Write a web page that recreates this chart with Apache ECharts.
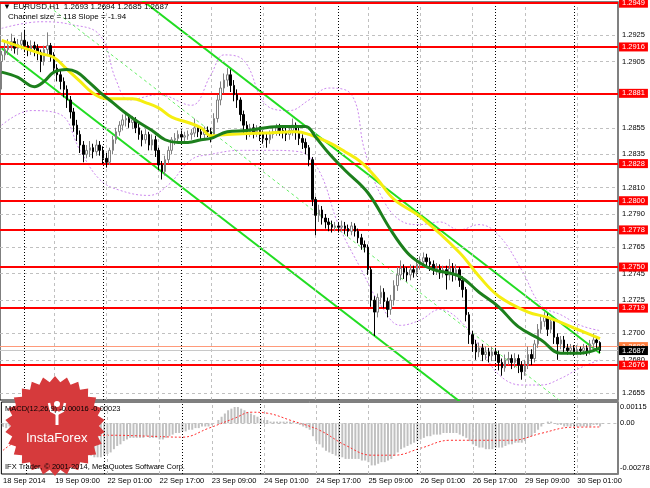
<!DOCTYPE html>
<html><head><meta charset="utf-8">
<script src="https://cdn.jsdelivr.net/npm/echarts@6/dist/echarts.min.js"></script>
<style>html,body{margin:0;padding:0;background:#fff}#c{width:650px;height:488px}</style>
</head><body><div id="c"></div>
<script>
// ---------- DATA ----------
// candles: [open, close, low, high], hourly bars from 18 Sep 2014 17:00
const candles = [
[1.2905,1.2910,1.2884,1.2913],[1.2910,1.2914,1.2906,1.2920],[1.2914,1.2917,1.2910,1.2922],[1.2917,1.2920,1.2913,1.2926],
[1.2920,1.2915,1.2911,1.2923],[1.2915,1.2918,1.2910,1.2922],[1.2918,1.2921,1.2914,1.2927],[1.2921,1.2917,1.2912,1.2929],
[1.2917,1.2914,1.2909,1.2920],[1.2914,1.2917,1.2910,1.2921],[1.2917,1.2915,1.2909,1.2920],[1.2915,1.2912,1.2906,1.2918],
[1.2912,1.2905,1.2897,1.2914],[1.2905,1.2914,1.2902,1.2917],[1.2914,1.2917,1.2910,1.2927],[1.2917,1.2910,1.2905,1.2919],
[1.2910,1.2900,1.2896,1.2912],[1.2900,1.2895,1.2890,1.2903],[1.2895,1.2890,1.2884,1.2898],[1.2890,1.2884,1.2878,1.2893],
[1.2884,1.2876,1.2870,1.2887],[1.2876,1.2867,1.2862,1.2879],[1.2867,1.2857,1.2852,1.2870],[1.2857,1.2850,1.2845,1.2861],
[1.2850,1.2842,1.2836,1.2853],[1.2842,1.2835,1.2829,1.2845],[1.2835,1.2838,1.2832,1.2842],[1.2838,1.2840,1.2833,1.2845],
[1.2840,1.2837,1.2832,1.2843],[1.2837,1.2842,1.2834,1.2846],[1.2842,1.2838,1.2834,1.2845],[1.2838,1.2832,1.2828,1.2841],
[1.2832,1.2829,1.2825,1.2836],[1.2829,1.2838,1.2827,1.2840],[1.2838,1.2846,1.2835,1.2849],[1.2846,1.2852,1.2843,1.2855],
[1.2852,1.2857,1.2849,1.2860],[1.2857,1.2861,1.2853,1.2865],[1.2861,1.2862,1.2856,1.2867],[1.2862,1.2859,1.2855,1.2865],
[1.2859,1.2861,1.2854,1.2864],[1.2861,1.2855,1.2851,1.2863],[1.2855,1.2850,1.2846,1.2858],[1.2850,1.2846,1.2841,1.2853],
[1.2846,1.2850,1.2843,1.2854],[1.2850,1.2842,1.2838,1.2852],[1.2842,1.2846,1.2838,1.2850],[1.2846,1.2838,1.2833,1.2849],
[1.2838,1.2827,1.2823,1.2840],[1.2827,1.2822,1.2816,1.2830],[1.2822,1.2831,1.2819,1.2834],[1.2831,1.2838,1.2828,1.2841],
[1.2838,1.2846,1.2835,1.2848],[1.2846,1.2847,1.2842,1.2851],[1.2847,1.2850,1.2844,1.2853],[1.2850,1.2848,1.2845,1.2853],
[1.2848,1.2849,1.2845,1.2852],[1.2849,1.2850,1.2846,1.2853],[1.2850,1.2851,1.2846,1.2854],[1.2851,1.2855,1.2848,1.2862],
[1.2855,1.2852,1.2848,1.2857],[1.2852,1.2850,1.2846,1.2855],[1.2850,1.2853,1.2847,1.2856],[1.2853,1.2852,1.2848,1.2856],
[1.2852,1.2850,1.2844,1.2855],[1.2850,1.2862,1.2847,1.2866],[1.2862,1.2876,1.2859,1.2880],[1.2876,1.2885,1.2872,1.2890],
[1.2885,1.2891,1.2881,1.2896],[1.2891,1.2895,1.2886,1.2900],[1.2895,1.2887,1.2882,1.2899],[1.2887,1.2880,1.2875,1.2891],
[1.2880,1.2876,1.2870,1.2884],[1.2876,1.2865,1.2860,1.2878],[1.2865,1.2857,1.2850,1.2868],[1.2857,1.2852,1.2846,1.2860],
[1.2852,1.2855,1.2848,1.2858],[1.2855,1.2852,1.2847,1.2858],[1.2852,1.2853,1.2848,1.2857],[1.2853,1.2850,1.2845,1.2856],
[1.2850,1.2847,1.2843,1.2853],[1.2847,1.2846,1.2840,1.2851],[1.2846,1.2850,1.2843,1.2853],[1.2850,1.2852,1.2847,1.2855],
[1.2852,1.2855,1.2849,1.2858],[1.2855,1.2853,1.2849,1.2858],[1.2853,1.2852,1.2847,1.2857],[1.2852,1.2850,1.2845,1.2855],
[1.2850,1.2853,1.2846,1.2857],[1.2853,1.2857,1.2849,1.2862],[1.2857,1.2852,1.2846,1.2859],[1.2852,1.2847,1.2842,1.2855],
[1.2847,1.2844,1.2839,1.2850],[1.2844,1.2840,1.2835,1.2847],[1.2840,1.2831,1.2826,1.2842],[1.2831,1.2801,1.2796,1.2833],
[1.2801,1.2789,1.2774,1.2803],[1.2789,1.2793,1.2784,1.2797],[1.2793,1.2787,1.2782,1.2796],[1.2787,1.2784,1.2779,1.2790],
[1.2784,1.2782,1.2777,1.2787],[1.2782,1.2780,1.2776,1.2785],[1.2780,1.2781,1.2777,1.2784],[1.2781,1.2780,1.2776,1.2784],
[1.2780,1.2781,1.2777,1.2785],[1.2781,1.2779,1.2775,1.2784],[1.2779,1.2777,1.2773,1.2782],[1.2777,1.2781,1.2774,1.2784],
[1.2781,1.2777,1.2773,1.2783],[1.2777,1.2772,1.2768,1.2779],[1.2772,1.2767,1.2763,1.2775],[1.2767,1.2765,1.2761,1.2770],
[1.2765,1.2748,1.2744,1.2767],[1.2748,1.2725,1.2720,1.2750],[1.2725,1.2716,1.2698,1.2728],[1.2716,1.2727,1.2712,1.2730],
[1.2727,1.2731,1.2722,1.2736],[1.2731,1.2724,1.2719,1.2734],[1.2724,1.2718,1.2712,1.2727],[1.2718,1.2725,1.2714,1.2729],
[1.2725,1.2736,1.2721,1.2740],[1.2736,1.2744,1.2732,1.2750],[1.2744,1.2749,1.2740,1.2755],[1.2749,1.2746,1.2741,1.2752],
[1.2746,1.2744,1.2739,1.2750],[1.2744,1.2748,1.2740,1.2752],[1.2748,1.2746,1.2742,1.2751],[1.2746,1.2752,1.2743,1.2756],
[1.2752,1.2754,1.2748,1.2758],[1.2754,1.2757,1.2750,1.2761],[1.2757,1.2754,1.2750,1.2760],[1.2754,1.2752,1.2747,1.2757],
[1.2752,1.2748,1.2744,1.2755],[1.2748,1.2749,1.2744,1.2753],[1.2749,1.2746,1.2741,1.2752],[1.2746,1.2748,1.2742,1.2751],
[1.2748,1.2744,1.2733,1.2751],[1.2744,1.2749,1.2740,1.2756],[1.2749,1.2744,1.2739,1.2753],[1.2744,1.2748,1.2740,1.2752],
[1.2748,1.2740,1.2735,1.2750],[1.2740,1.2733,1.2727,1.2743],[1.2733,1.2714,1.2709,1.2735],[1.2714,1.2699,1.2692,1.2716],
[1.2699,1.2692,1.2686,1.2702],[1.2692,1.2686,1.2680,1.2695],[1.2686,1.2689,1.2682,1.2693],[1.2689,1.2684,1.2679,1.2692],
[1.2684,1.2686,1.2680,1.2690],[1.2686,1.2683,1.2678,1.2689],[1.2683,1.2686,1.2679,1.2690],[1.2686,1.2684,1.2679,1.2689],
[1.2684,1.2678,1.2672,1.2687],[1.2678,1.2674,1.2668,1.2681],[1.2674,1.2680,1.2671,1.2684],[1.2680,1.2681,1.2676,1.2686],
[1.2681,1.2678,1.2673,1.2684],[1.2678,1.2681,1.2674,1.2685],[1.2681,1.2676,1.2670,1.2684],[1.2676,1.2671,1.2665,1.2679],
[1.2671,1.2676,1.2668,1.2680],[1.2676,1.2684,1.2673,1.2690],[1.2684,1.2681,1.2676,1.2688],[1.2681,1.2692,1.2678,1.2695],
[1.2692,1.2703,1.2689,1.2707],[1.2703,1.2709,1.2700,1.2713],[1.2709,1.2712,1.2705,1.2716],[1.2712,1.2703,1.2698,1.2715],
[1.2703,1.2709,1.2700,1.2712],[1.2709,1.2697,1.2692,1.2711],[1.2697,1.2692,1.2680,1.2700],[1.2692,1.2695,1.2688,1.2698],
[1.2695,1.2689,1.2685,1.2698],[1.2689,1.2687,1.2684,1.2692],[1.2687,1.2689,1.2684,1.2692],[1.2689,1.2686,1.2683,1.2691],
[1.2686,1.2688,1.2684,1.2691],[1.2688,1.2687,1.2684,1.2690],[1.2687,1.2689,1.2684,1.2692],[1.2689,1.2686,1.2683,1.2691],
[1.2686,1.2692,1.2684,1.2695],[1.2692,1.2695,1.2688,1.2700],[1.2695,1.2693,1.2687,1.2697],[1.2693,1.2687,1.2685,1.2694]
];
// moving averages: [barIndex, price]
const yellowMA = [[0,1.2921],[12,1.2911],[16,1.2908],[20,1.2899],[24,1.2890],[28,1.2881],[32,1.2877],[40,1.2877],[44,1.2874],[48,1.2870],[52,1.2863],[57,1.2859],[61,1.2855],[64,1.2849],[69,1.2850],[80,1.2851],[90,1.2852],[94,1.2850],[100,1.2844],[105,1.2837],[110,1.2829],[115,1.2816],[120,1.2801],[128,1.2788],[140,1.2761],[146,1.2743],[152,1.2728],[161,1.2716],[167,1.2712],[175,1.2704],[183,1.2696]];
const greenMA = [[0,1.2897],[5,1.2893],[10,1.2886],[13,1.2890],[16,1.2897],[20,1.2899],[23,1.2897],[26,1.2891],[30,1.2882],[34,1.2874],[38,1.2866],[42,1.2859],[46,1.2853],[50,1.2846],[54,1.2844],[57,1.2844],[61,1.2846],[64,1.2847],[69,1.2852],[75,1.2853],[85,1.2856],[93,1.2856],[96,1.2848],[100,1.2836],[105,1.2823],[112,1.2806],[119,1.2778],[124,1.2761],[128,1.2753],[132,1.2748],[140,1.2743],[146,1.2731],[152,1.2720],[158,1.2705],[165,1.2695],[171,1.2685],[177,1.2685],[183,1.2689]];
const bandUpper = [[0,1.2930],[12,1.2935],[21,1.2933],[30,1.2925],[35,1.2891],[39,1.2876],[48,1.2880],[58,1.2872],[64,1.2895],[68,1.2910],[74,1.2906],[81,1.2872],[88,1.2868],[94,1.2876],[100,1.2885],[107,1.2880],[111,1.2838],[116,1.2804],[122,1.2785],[128,1.2782],[134,1.2784],[140,1.2778],[146,1.2782],[152,1.2774],[159,1.2748],[165,1.2721],[171,1.2714],[177,1.2706],[183,1.2702]];
const bandLower = [[0,1.2857],[9,1.2868],[18,1.2865],[24,1.2838],[30,1.2816],[36,1.2808],[45,1.2804],[51,1.2812],[58,1.2831],[64,1.2835],[73,1.2838],[82,1.2838],[91,1.2837],[97,1.2823],[103,1.2782],[110,1.2748],[116,1.2721],[122,1.2706],[128,1.2710],[134,1.2718],[140,1.2710],[146,1.2691],[152,1.2669],[159,1.2661],[165,1.2661],[171,1.2666],[177,1.2674],[183,1.2680]];
const channelUpper = [[0,1.3033],[183,1.2685]];
const channelMid = [[0,1.2974],[183,1.2626]];
const channelLower = [[0,1.2915],[183,1.2567]];
const levels = [1.2949,1.2916,1.2881,1.2828,1.2800,1.2778,1.2750,1.2719,1.2676];
const priceTicks = [1.2925,1.2905,1.2855,1.2835,1.2810,1.2790,1.2765,1.2745,1.2725,1.2700,1.2680,1.2655];
const bidPrice = 1.2687, askPrice = 1.2690;
const macdHist = [
-0.0002,-0.0003,-0.0002,-0.0003,-0.0003,-0.0004,-0.0004,-0.0004,-0.0005,-0.0005,-0.0005,-0.0006,
-0.0006,-0.0006,-0.0006,-0.0006,-0.0007,-0.0008,-0.0009,-0.0010,-0.0011,-0.0013,-0.0014,-0.0016,
-0.0017,-0.0019,-0.0019,-0.0020,-0.0021,-0.0021,-0.0021,-0.0020,-0.0019,-0.0018,-0.0016,-0.0014,
-0.0013,-0.0011,-0.0010,-0.0009,-0.0009,-0.0009,-0.0009,-0.0009,-0.0008,-0.0009,-0.0009,-0.0009,
-0.0010,-0.0010,-0.0009,-0.0008,-0.0007,-0.0006,-0.0006,-0.0005,-0.0005,-0.0004,-0.0004,-0.0003,
-0.0003,-0.0002,-0.0002,-0.0002,-0.0001,0.0000,0.0002,0.0004,0.0006,0.0008,0.0009,0.0010,
0.0010,0.0009,0.0008,0.0007,0.0006,0.0005,0.0004,0.0003,0.0002,0.0002,0.0001,0.0001,
0.0001,0.0001,0.0001,0.0001,0.0001,0.0001,0.0000,-0.0001,-0.0002,-0.0003,-0.0004,-0.0008,
-0.0011,-0.0013,-0.0015,-0.0017,-0.0018,-0.0019,-0.0020,-0.0021,-0.0021,-0.0022,-0.0022,-0.0022,
-0.0022,-0.0022,-0.0023,-0.0023,-0.0024,-0.0026,-0.0026,-0.0025,-0.0024,-0.0024,-0.0023,-0.0022,
-0.0020,-0.0018,-0.0016,-0.0015,-0.0014,-0.0013,-0.0012,-0.0011,-0.0010,-0.0009,-0.0008,-0.0008,
-0.0007,-0.0007,-0.0007,-0.0006,-0.0006,-0.0006,-0.0006,-0.0006,-0.0007,-0.0008,-0.0009,-0.0011,
-0.0013,-0.0014,-0.0015,-0.0015,-0.0016,-0.0016,-0.0016,-0.0015,-0.0015,-0.0015,-0.0014,-0.0013,
-0.0013,-0.0012,-0.0012,-0.0012,-0.0011,-0.0009,-0.0008,-0.0006,-0.0004,-0.0002,0.0000,0.0001,
0.0001,0.0000,-0.0001,-0.0001,-0.0002,-0.0002,-0.0002,-0.0002,-0.0002,-0.0002,-0.0002,-0.0002,
-0.0002,-0.0001,-0.0001,-0.0002];
const macdSignal = [[0,-0.00167],[6,-0.00093],[15,-0.00068],[24,-0.00080],[33,-0.00074],[45,-0.00080],[55,-0.00086],[63,-0.00031],[71,0.00031],[76,0.00068],[81,0.00062],[88,0.00019],[97,-0.00043],[105,-0.00136],[113,-0.00197],[120,-0.00197],[128,-0.00154],[137,-0.00105],[146,-0.00105],[156,-0.00105],[165,-0.00062],[174,-0.00025],[183,-0.00023]];
const macdTicks = [0.00115, 0, -0.00278];
const timeLabels = ['18 Sep 2014','19 Sep 09:00','22 Sep 01:00','22 Sep 17:00','23 Sep 09:00','24 Sep 01:00','24 Sep 17:00','25 Sep 09:00','26 Sep 01:00','26 Sep 17:00','29 Sep 09:00','30 Sep 01:00'];
const timeLabelIdx = [0,16,32,48,64,80,96,112,128,144,160,176];
const daySepIdx = [7,31,55,79,103,127,151,175];
const slotCount = 189; // 184 bars + chart shift

// ---------- CHART ----------
const FONT = 'Liberation Sans';
const cats = Array.from({length: slotCount}, (_, i) => String(i));
const chart = echarts.init(document.getElementById('c'), null, {renderer: 'canvas'});

const vLines = timeLabelIdx.slice(1).map(i => ({xAxis: i, lineStyle: {color: '#c0c0c0', type: [3,3], width: 1}}))
  .concat(daySepIdx.map(i => ({xAxis: i, lineStyle: {color: '#000', type: [1,2], width: 1}})));

function starPoints(cx, cy, R, r, n) {
  const pts = [];
  for (let k = 0; k < 2 * n; k++) {
    const a = k * Math.PI / n - Math.PI / 2;
    const rr = k % 2 === 0 ? R : r;
    pts.push([cx + rr * Math.cos(a), cy + rr * Math.sin(a)]);
  }
  return pts;
}
const boxLabel = (bg) => ({show: true, position: 'end', distance: 1, color: '#fff', backgroundColor: bg, padding: [1,3,0,3], fontSize: 7.5, fontFamily: FONT, formatter: p => p.value.toFixed(4)});

const option = {
  animation: false,
  backgroundColor: '#fff',
  textStyle: {fontFamily: FONT},
  grid: [
    {left: 0, right: 32, top: 2, height: 398, show: true, borderColor: '#000', borderWidth: 1, backgroundColor: 'transparent'},
    {left: 0, right: 32, top: 402, height: 72, show: true, borderColor: '#000', borderWidth: 1, backgroundColor: 'transparent'}
  ],
  xAxis: [
    {type: 'category', data: cats, gridIndex: 0, axisLine: {show: false}, axisTick: {show: false}, axisLabel: {show: false}, splitLine: {show: false}},
    {type: 'category', data: cats, gridIndex: 1, axisLine: {show: false},
      axisTick: {show: true, alignWithLabel: true, length: 3, lineStyle: {color: '#000'}, interval: (i) => timeLabelIdx.includes(i)},
      axisLabel: {show: true, interval: (i) => timeLabelIdx.includes(i), align: 'left', margin: 3, fontSize: 7.5, color: '#000', fontFamily: FONT,
        formatter: (v, i) => timeLabels[timeLabelIdx.indexOf(i)] || ''},
      splitLine: {show: false}}
  ],
  yAxis: [
    {type: 'value', gridIndex: 0, position: 'right', min: 1.26497, max: 1.29499, axisLine: {show: true, lineStyle: {color: '#808080', width: 2}}, axisTick: {show: false}, axisLabel: {show: false}, splitLine: {show: false}},
    {type: 'value', gridIndex: 1, position: 'right', min: -0.00313, max: 0.00131, axisLine: {show: true, lineStyle: {color: '#808080', width: 2}}, axisTick: {show: false}, axisLabel: {show: false}, splitLine: {show: false}}
  ],
  series: [
    // grid lines + price labels
    {type: 'line', data: [], z: 1, silent: true,
      markLine: {symbol: ['none','none'], precision: 6, silent: true, animation: false,
        lineStyle: {color: '#c0c0c0', type: [3,3], width: 1},
        label: {show: true, position: 'end', distance: 4, color: '#000', fontSize: 7.5, fontFamily: FONT, formatter: p => p.value.toFixed(4)},
        data: priceTicks.map(v => ({yAxis: v}))}},
    {type: 'line', data: [], z: 1, silent: true,
      markLine: {symbol: ['none','none'], precision: 6, silent: true, animation: false, label: {show: false}, data: vLines}},
    // bands
    {type: 'line', data: bandUpper, smooth: 0.4, showSymbol: false, z: 3, lineStyle: {color: '#cc88ee', width: 1, type: [2,2]}},
    {type: 'line', data: bandLower, smooth: 0.4, showSymbol: false, z: 3, lineStyle: {color: '#cc88ee', width: 1, type: [2,2]}},
    // channel
    {type: 'line', data: channelMid, showSymbol: false, z: 3, lineStyle: {color: '#66ee66', width: 1, type: [3,3]}},
    {type: 'line', data: channelUpper, showSymbol: false, z: 4, lineStyle: {color: '#22dd22', width: 2}},
    {type: 'line', data: channelLower, showSymbol: false, z: 4, lineStyle: {color: '#22dd22', width: 2}},
    // candles
    {type: 'candlestick', data: candles, z: 5, barWidth: 2,
      itemStyle: {color: '#ffffff', color0: '#000000', borderColor: '#808080', borderColor0: '#000000', borderWidth: 1}},
    // MAs
    {type: 'line', data: yellowMA, smooth: 0.4, showSymbol: false, z: 6, lineStyle: {color: '#f5ee10', width: 3}},
    {type: 'line', data: greenMA, smooth: 0.4, showSymbol: false, z: 6, lineStyle: {color: '#1c7f1c', width: 3}},
    // levels
    {type: 'line', data: [], z: 8, silent: true,
      markLine: {symbol: ['none','none'], precision: 6, silent: true, animation: false,
        lineStyle: {color: '#ff0000', type: 'solid', width: 2},
        label: boxLabel('#ff0000'),
        data: levels.map(v => ({yAxis: v}))}},
    // ask / bid
    {type: 'line', data: [], z: 9, silent: true,
      markLine: {symbol: ['none','none'], precision: 6, silent: true, animation: false,
        data: [
          {yAxis: askPrice, lineStyle: {color: '#ff9a7a', width: 1, type: 'solid'}, label: boxLabel('#ff7f40')},
          {yAxis: bidPrice, lineStyle: {color: '#c8c8c8', width: 1, type: 'solid'}, label: boxLabel('#000000')}
        ]}},
    // MACD panel
    {type: 'line', data: [], xAxisIndex: 1, yAxisIndex: 1, z: 1, silent: true,
      markLine: {symbol: ['none','none'], precision: 6, silent: true, animation: false, label: {show: false}, data: vLines}},
    {type: 'line', data: [], xAxisIndex: 1, yAxisIndex: 1, z: 1, silent: true,
      markLine: {symbol: ['none','none'], precision: 6, silent: true, animation: false,
        label: {show: true, position: 'end', distance: 2, color: '#000', fontSize: 7.5, fontFamily: FONT,
          formatter: p => p.value === 0 ? '0.00' : p.value.toFixed(5)},
        data: macdTicks.map(v => ({yAxis: v, lineStyle: {color: v === 0 ? '#c0c0c0' : 'rgba(0,0,0,0)', type: [3,3], width: 1},
          label: v > 0 ? {offset: [0, 2]} : {}}))}},
    {type: 'bar', data: macdHist, xAxisIndex: 1, yAxisIndex: 1, z: 3, barWidth: 2, itemStyle: {color: '#c0c0c0'}},
    {type: 'line', data: macdSignal, xAxisIndex: 1, yAxisIndex: 1, smooth: 0.4, showSymbol: false, z: 4, lineStyle: {color: '#ff3030', width: 1, type: [2,2]}}
  ],
  graphic: [
    {type: 'polygon', z: 50, shape: {points: starPoints(55, 426, 50, 44, 26)}, style: {fill: '#d63a3c'}},
    {type: 'circle', z: 51, shape: {cx: 57, cy: 404, r: 3}, style: {fill: '#fff'}},
    {type: 'polyline', z: 51, shape: {points: [[49,403],[51,411],[57,414],[63,411],[65,403]]}, style: {stroke: '#fff', lineWidth: 2.5, fill: null}},
    {type: 'rect', z: 51, shape: {x: 55.5, y: 411, width: 3, height: 14}, style: {fill: '#fff'}},
    {type: 'text', z: 52, left: 26, top: 432, style: {text: 'InstaForex', fill: '#fff', font: '13px "Liberation Sans"'}},
    {type: 'text', z: 60, left: 3, top: 3, style: {text: '\u25BC EURUSD,H1  1.2693 1.2694 1.2685 1.2687', fill: '#000', font: '8px "Liberation Sans"'}},
    {type: 'text', z: 60, left: 8, top: 13, style: {text: 'Channel size = 118 Slope = -1.94', fill: '#000', font: '8px "Liberation Sans"'}},
    {type: 'text', z: 60, left: 5, top: 405, style: {text: 'MACD(12,26,9) -0.00016 -0.00023', fill: '#000', font: '7.5px "Liberation Sans"'}},
    {type: 'text', z: 60, left: 5, top: 463, style: {text: 'IFX Trader, \u00A9 2001-2014, MetaQuotes Software Corp.', fill: '#000', font: '7.5px "Liberation Sans"'}}
  ]
};
chart.setOption(option);
</script>
</body></html>
